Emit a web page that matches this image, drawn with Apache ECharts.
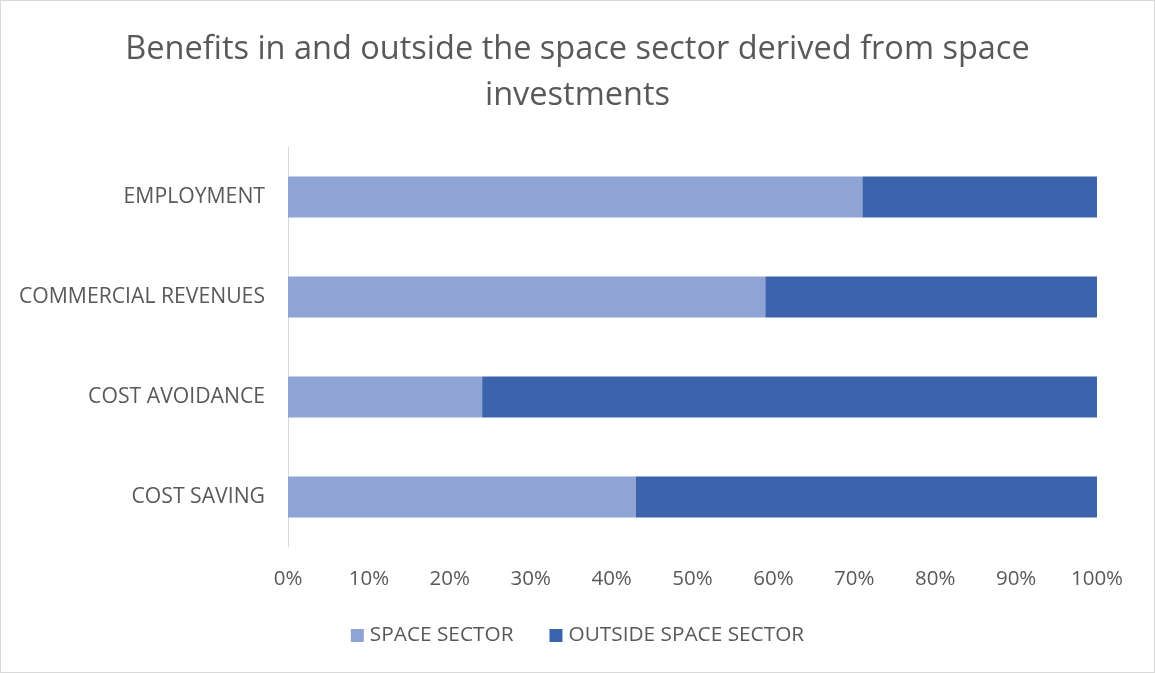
<!DOCTYPE html>
<html>
<head>
<meta charset="utf-8">
<script src="https://cdn.jsdelivr.net/npm/echarts@6/dist/echarts.min.js"></script>
<style>
  html, body { margin: 0; padding: 0; background: #fff; }
  #chart { width: 1153px; height: 671px; border: 1px solid #d9d9d9; }
</style>
</head>
<body>
<div id="chart"></div>
<script>
// Share of benefits, per category (percent of total)
const categories = ['COST SAVING', 'COST AVOIDANCE', 'COMMERCIAL REVENUES', 'EMPLOYMENT'];
const spaceSector = [43, 24, 59, 71];
const outsideSpaceSector = [57, 76, 41, 29];
const seriesNames = ['SPACE SECTOR', 'OUTSIDE SPACE SECTOR'];
const titleText = 'Benefits in and outside the space sector derived from space\ninvestments';

const font = '"Open Sans", Lato, sans-serif';
const textColor = '#595959';

const chart = echarts.init(document.getElementById('chart'), null, { renderer: 'canvas' });
chart.setOption({
  animation: false,
  textStyle: { fontFamily: font },
  title: {
    text: titleText,
    left: 'center',
    top: 21,
    textStyle: { fontFamily: font, fontSize: 32.5, fontWeight: 'normal', color: textColor, lineHeight: 46 }
  },
  legend: {
    bottom: 21,
    left: 'center',
    itemWidth: 13,
    itemHeight: 13,
    itemGap: 36,
    icon: 'rect',
    textStyle: { fontFamily: font, fontSize: 20.8, color: textColor, padding: [0, 0, 0, 1] },
    data: seriesNames
  },
  grid: { left: 287, right: 57, top: 146, bottom: 125, containLabel: false },
  xAxis: {
    type: 'value',
    min: 0,
    max: 100,
    interval: 10,
    axisLine: { show: false },
    axisTick: { show: false },
    splitLine: { show: false },
    axisLabel: { formatter: '{value}%', fontSize: 20.5, color: textColor, margin: 22, fontFamily: font }
  },
  yAxis: {
    type: 'category',
    data: categories,
    axisLine: { show: true, lineStyle: { color: '#d9d9d9', width: 1 } },
    axisTick: { show: false },
    axisLabel: { fontSize: 21.2, color: textColor, margin: 23, fontFamily: font }
  },
  series: [
    {
      name: seriesNames[0],
      type: 'bar',
      stack: 'total',
      barWidth: '41%',
      itemStyle: { color: '#8FA4D5' },
      data: spaceSector
    },
    {
      name: seriesNames[1],
      type: 'bar',
      stack: 'total',
      barWidth: '41%',
      itemStyle: { color: '#3C64AD' },
      data: outsideSpaceSector
    }
  ]
});
</script>
</body>
</html>
